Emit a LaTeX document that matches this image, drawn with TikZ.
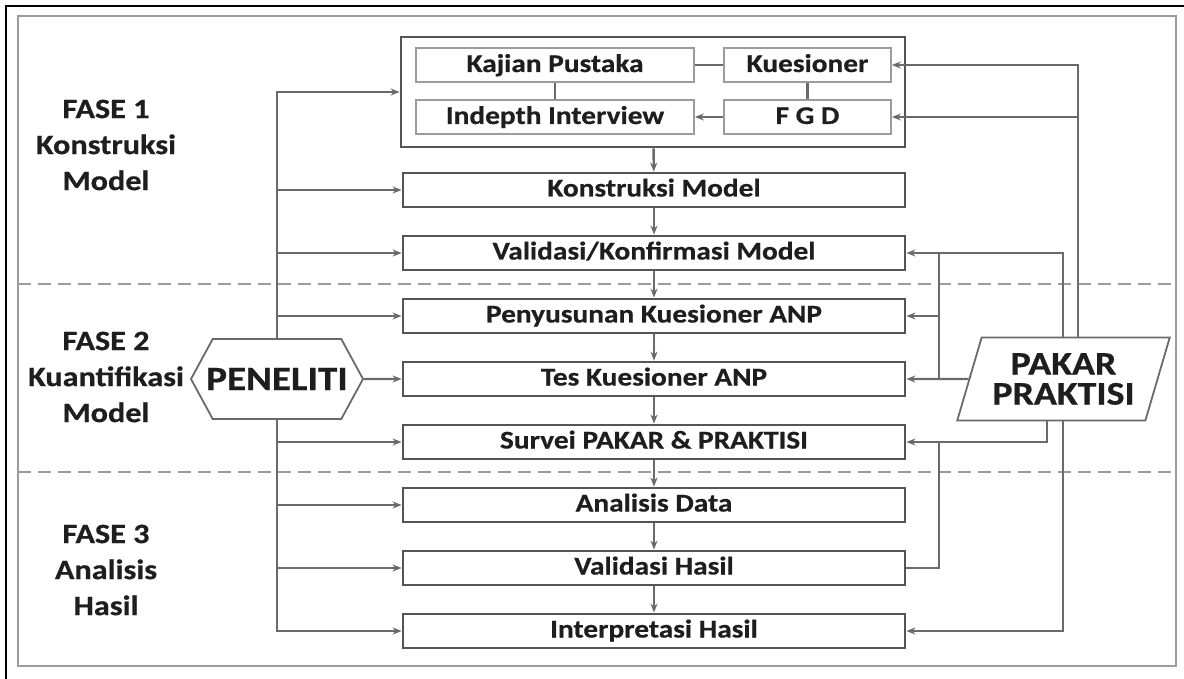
\documentclass[tikz,border=0pt]{standalone}
\usepackage{fontspec}
\setmainfont{Carlito}[FakeStretch=1.15, BoldFeatures={FakeBold=0.6}]
\usetikzlibrary{positioning,arrows.meta,shapes.geometric,shapes.symbols}

\definecolor{boxline}{HTML}{555555}
\definecolor{conline}{HTML}{6A6A6A}
\definecolor{frameline}{HTML}{9C9C9C}
\definecolor{txt}{HTML}{1E1E1E}

\tikzset{
  tahap/.style={draw=boxline, line width=2.8pt, minimum width=502pt, minimum height=34pt,
    inner sep=0pt, text height=16pt, text depth=3pt, text=txt,
    font=\bfseries\fontsize{25.5}{28}\selectfont},
  sub/.style={draw=frameline, line width=1.8pt, minimum height=34pt,
    inner sep=0pt, text height=16pt, text depth=2pt, text=txt,
    font=\bfseries\fontsize{25.5}{28}\selectfont},
  fase/.style={align=center, text=txt, font=\bfseries\fontsize{28}{36}\selectfont},
  lin/.style={draw=conline, line width=2.4pt},
  arr/.style={lin, -{Stealth[length=9pt,width=7pt]}},
}

\begin{document}
\begin{tikzpicture}[x=1pt, y=-1pt, node distance=63pt, on grid]
  \useasboundingbox (0,0) rectangle (1184,679);

  % frames and phase separators
  \draw[black, line width=2.5pt] (6,679) -- (6,6) -- (1184,6);
  \draw[frameline, line width=2pt] (18,16) rectangle (1176,666);
  \draw[frameline, line width=2pt, dash pattern=on 13pt off 7pt] (18,284) -- (1176,284);
  \draw[frameline, line width=2pt, dash pattern=on 13pt off 7pt] (18,472) -- (1176,472);

  % phase labels
  \node[fase] (f1) at (106,145) {FASE 1\\Konstruksi\\Model};
  \node[fase] (f2) at (106,377) {FASE 2\\Kuantifikasi\\Model};
  \node[fase] (f3) at (106,570) {FASE 3\\Analisis\\Hasil};

  % data collection group
  \node[draw=boxline, line width=2.8pt, minimum width=504pt, minimum height=110pt] (grp) at (653,92) {};
  \node[sub, minimum width=278pt] (kajian) at (555,65) {Kajian Pustaka};
  \node[sub, minimum width=167pt] (kues) at (807.5,65) {Kuesioner};
  \node[sub, minimum width=278pt] (indepth) at (555,117) {Indepth Interview};
  \node[sub, minimum width=167pt] (fgd) at (807.5,117) {F G D};

  % main steps
  \node[tahap] (kons) at (654,190) {Konstruksi Model};
  \node[tahap, below=of kons] (valm) {Validasi/Konfirmasi Model};
  \node[tahap, below=of valm] (susun) {Penyusunan Kuesioner ANP};
  \node[tahap, below=of susun] (tes) {Tes Kuesioner ANP};
  \node[tahap, below=of tes] (survei) {Survei PAKAR \& PRAKTISI};
  \node[tahap, below=of survei] (anal) {Analisis Data};
  \node[tahap, below=of anal] (valh) {Validasi Hasil};
  \node[tahap, below=of valh] (interp) {Interpretasi Hasil};

  % actors
  \node[signal, signal to=west and east, signal pointer angle=123, draw=conline, line width=1.8pt,
    minimum width=172pt, minimum height=80pt, inner ysep=0pt, inner xsep=-7pt, text=txt,
    font=\bfseries\fontsize{34}{36}\selectfont] (peneliti) at (277,379) {PENELITI};
  \node[trapezium, trapezium left angle=70, trapezium right angle=110, trapezium stretches=true,
    draw=conline, line width=1.8pt, minimum width=213pt, minimum height=83pt, inner ysep=0pt,
    inner xsep=-8pt, align=center, text=txt, font=\bfseries\fontsize{33}{30}\selectfont]
    (pakar) at (1063.5,379) {PAKAR\\PRAKTISI};

  \coordinate (kA) at (1078,0);
  \coordinate (kB) at (1063,0);
  \coordinate (kC) at (1047,0);
  \coordinate (kD) at (939,0);

  % inside the group
  \draw[lin] (kajian) -- (kues);
  \draw[lin] (kajian) -- (indepth);
  \draw[lin] (kues) -- (fgd);
  \draw[arr] (fgd) -- (indepth);

  % flow
  \draw[arr] (grp) -- (kons);
  \foreach \a/\b in {kons/valm, valm/susun, susun/tes, tes/survei, survei/anal, anal/valh, valh/interp}
    \draw[arr] (\a) -- (\b);

  % researcher
  \foreach \t in {grp, kons, valm, susun}
    \draw[arr] (peneliti.north) |- (\t.west);
  \draw[arr] (peneliti) -- (tes);
  \foreach \t in {survei, anal, valh, interp}
    \draw[arr] (peneliti.south) |- (\t.west);

  % experts and practitioners
  \draw[arr] (kA |- pakar.north) |- (kues.east);
  \draw[arr] (kA |- fgd.east) -- (fgd.east);
  \draw[arr] (kB |- pakar.north) |- (valm.east);
  \draw[lin] (kD |- valm.east) -- (kD |- tes.east);
  \draw[arr] (kD |- susun.east) -- (susun.east);
  \draw[arr] (pakar) -- (tes);
  \draw[arr] (kC |- pakar.south) |- (survei.east);
  \draw[lin] (valh.east) -| (kD |- survei.east);
  \draw[arr] (kB |- pakar.south) |- (interp.east);
\end{tikzpicture}
\end{document}
